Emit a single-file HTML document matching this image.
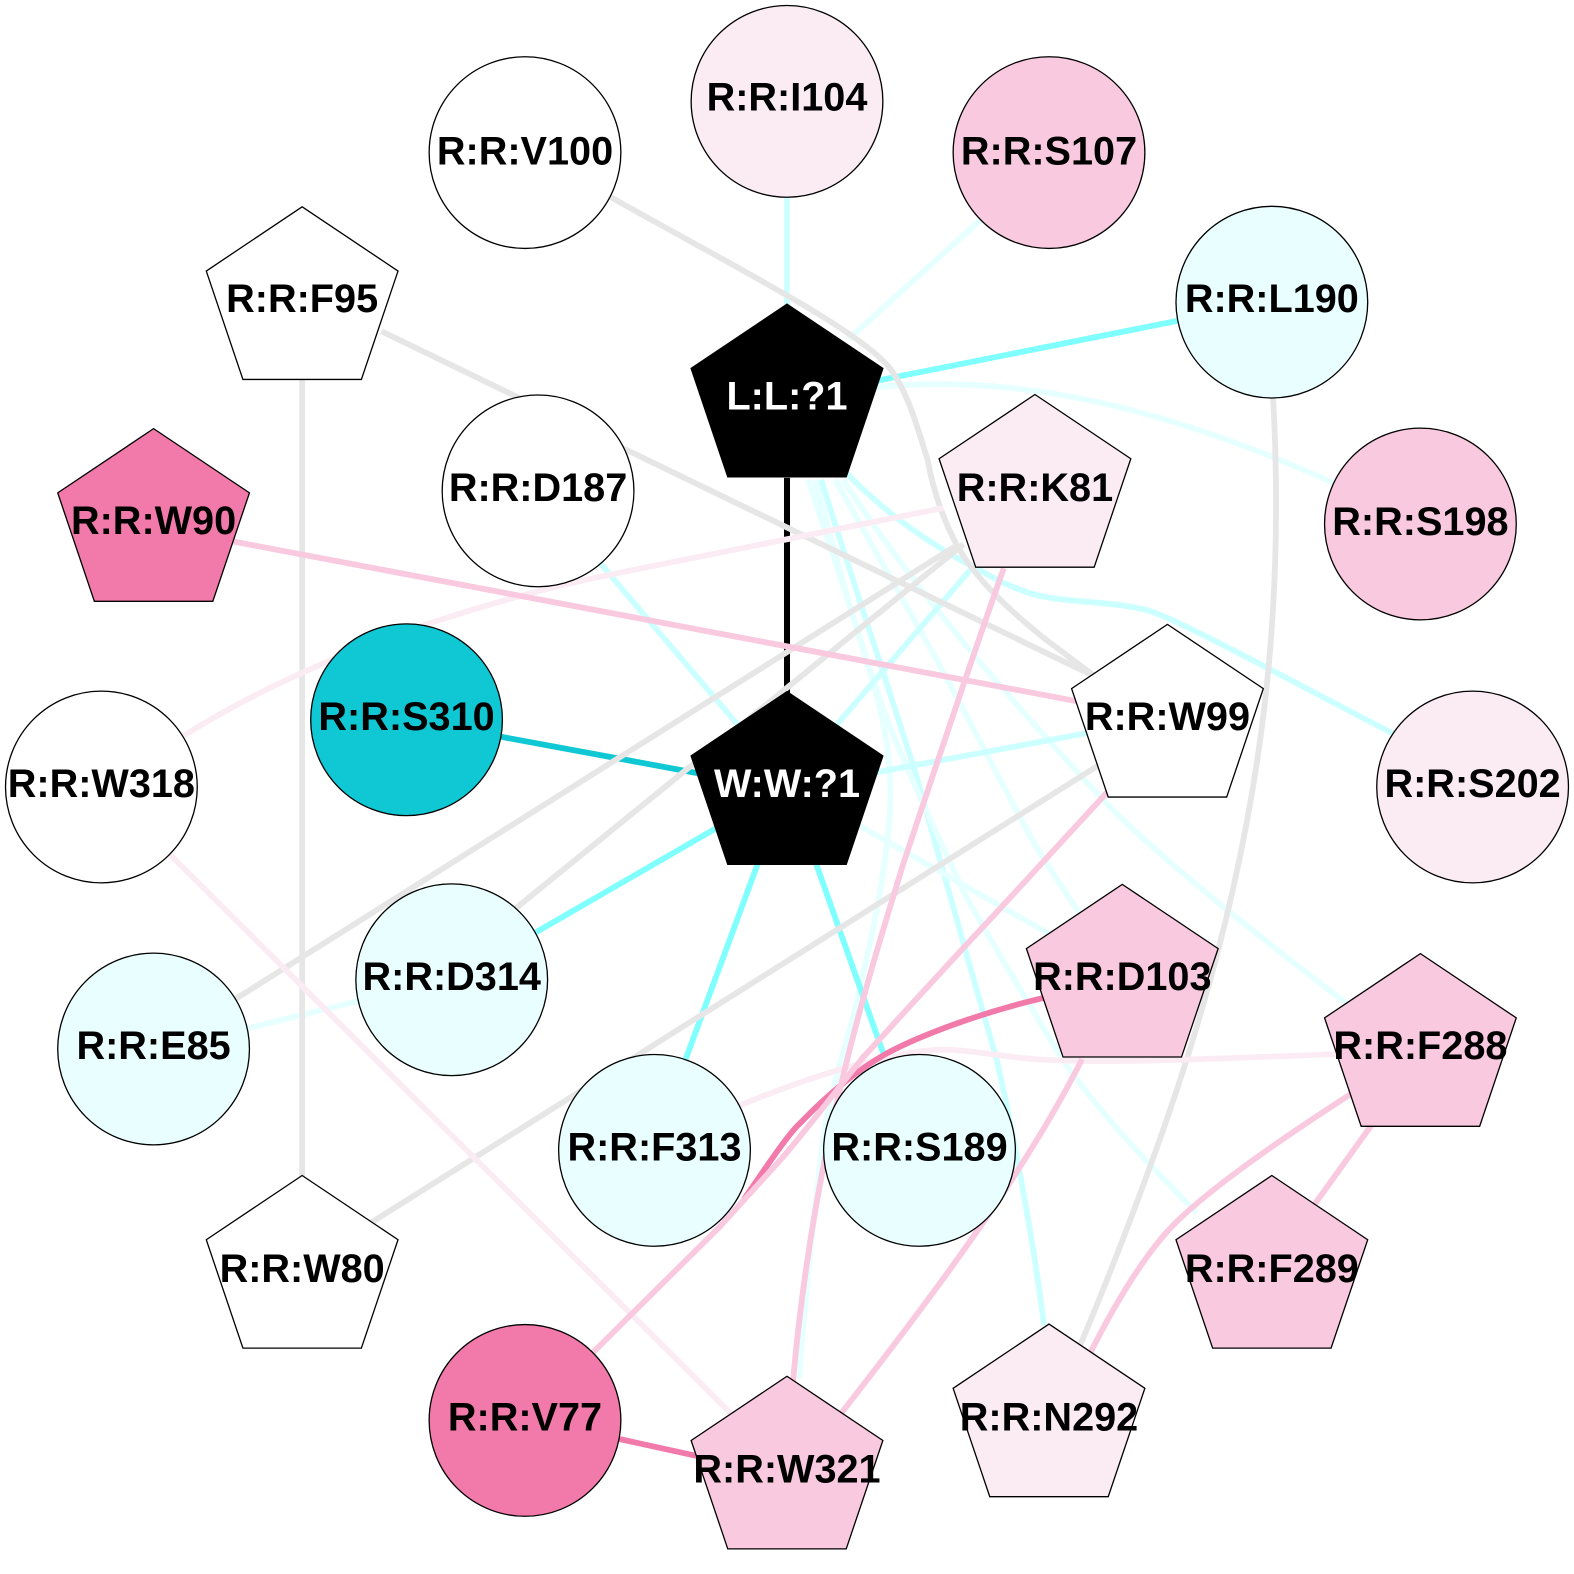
<!DOCTYPE html>
<html><head><meta charset="utf-8"><style>html,body{margin:0;padding:0;background:#fff}svg{display:block}text{font-family:"Liberation Sans",Arial,sans-serif;font-weight:bold;font-size:39.5px;text-anchor:middle;fill:#000}.e{fill:none;stroke-width:5.8}.c1{stroke:#e6ffff}.c2{stroke:#ccffff}.c3{stroke:#80ffff}.g{stroke:#e6e6e6}.p1{stroke:#fbecf4}.p2{stroke:#f9c9df}.p3{stroke:#f27aab}.n{stroke:#000;stroke-width:1.3}</style></head><body>
<svg xmlns="http://www.w3.org/2000/svg" width="1574" height="1574" viewBox="0 0 1568 1568">
<rect width="1568" height="1568" fill="#fff"/>
<path d="M784,476V695" fill="none" stroke="#000" stroke-width="6"/>
<g class="e">
<path class="e c2" d="M784,190V310"/>
<path class="e c1" d="M845,338L978,218"/>
<path class="e c3" d="M870,380L1176,319"/>
<path class="e c1" d="M870,386C1000,372 1150,400 1330,482"/>
<path class="e c2" d="M842,470C880,510 930,545 976,568C990,576 1015,590 1043,595C1070,600 1115,600 1143,608C1170,615 1280,675 1390,732"/>
<path class="e c1" d="M805,478C825,540 850,610 865,664C880,710 887,750 887,790C887,860 860,970 850,1013C835,1065 825,1100 820,1135C812,1200 802,1290 796,1373"/>
<path class="e c2" d="M818,478C845,565 890,700 912,770C935,850 965,960 993,1056C1010,1130 1030,1240 1040,1320"/>
<path class="e c1" d="M812,478C830,545 855,640 885,720C905,770 930,825 963,894C1000,960 1040,1025 1059,1056C1100,1115 1150,1165 1192,1208"/>
<path class="e c1" d="M832,478L933,657C970,725 1010,805 1036,850L1085,925"/>
<path class="e c1" d="M840,478C880,540 930,605 974,657C1015,705 1060,755 1099,797C1150,850 1250,930 1342,1000"/>
<path class="e c2" d="M597,560L740,728"/>
<path class="e c2" d="M830,726L968,566"/>
<path class="e c2" d="M870,770L1090,729"/>
<path class="e c1" d="M855,822L1050,933"/>
<path class="e c1" d="M244,1025L362,996"/>
<path class="e c3" d="M530,931L717,823"/>
<path class="e c3" d="M758,852L682,1058"/>
<path class="e c3" d="M810,852L883,1058"/>
<path class="e" stroke="#10c8d4" d="M494,733L710,773"/>
<path class="e g" d="M606,195C730,265 850,325 885,365C905,390 915,430 924,458C930,490 940,520 956,548C975,580 1010,612 1043,638L1095,677"/>
<path class="e g" d="M380,330L1095,676"/>
<path class="e g" d="M955,542L230,998"/>
<path class="e g" d="M960,542L505,912"/>
<path class="e g" d="M365,1221L1095,762"/>
<path class="e g" d="M301,375V1175"/>
<path class="e g" d="M1268,392C1280,600 1260,800 1190,1030C1160,1130 1110,1260 1076,1340"/>
<path class="e p1" d="M940,506L610,572C520,590 330,640 183,733"/>
<path class="e p1" d="M166,848L730,1410"/>
<path class="e p1" d="M1335,1050C1200,1055 1100,1060 1030,1055C970,1050 950,1040 900,1050C850,1060 800,1075 735,1102"/>
<path class="e p2" d="M230,539L1075,699"/>
<path class="e p3" d="M1040,994C980,1008 920,1030 884,1049C850,1068 820,1095 797,1119C785,1130 765,1160 741,1195"/>
<path class="e p2" d="M1000,566C970,650 930,770 900,860C860,990 810,1150 790,1376"/>
<path class="e p2" d="M1105,787L989,913C940,965 895,1015 860,1053C830,1090 800,1130 777,1156L717,1222L586,1352"/>
<path class="e p3" d="M610,1432L697,1451"/>
<path class="e p2" d="M1078,1055C1020,1170 930,1290 834,1413"/>
<path class="e p2" d="M1369,1117L1308,1202"/>
<path class="e p2" d="M1347,1089C1260,1145 1190,1195 1160,1230C1130,1265 1105,1310 1085,1350"/>
</g>
<g class="n">
<circle cx="523" cy="152" r="95.5" fill="#fff"/>
<circle cx="784" cy="101" r="95.5" fill="#fbecf4"/>
<circle cx="1045" cy="152" r="95.5" fill="#f9c9df"/>
<circle cx="1267" cy="301" r="95.5" fill="#e9ffff"/>
<circle cx="1415" cy="522" r="95.5" fill="#f9c9df"/>
<circle cx="1467" cy="784" r="95.5" fill="#fbecf4"/>
<circle cx="101" cy="784" r="95.5" fill="#fff"/>
<circle cx="405" cy="717" r="95.5" fill="#10c8d4"/>
<circle cx="536" cy="489" r="95.5" fill="#fff"/>
<circle cx="450" cy="976" r="95.5" fill="#e9ffff"/>
<circle cx="153" cy="1045" r="95.5" fill="#e9ffff"/>
<circle cx="652" cy="1146" r="95.5" fill="#e9ffff"/>
<circle cx="916" cy="1146" r="95.5" fill="#e9ffff"/>
<circle cx="523" cy="1415" r="95.5" fill="#f27aab"/>
<polygon fill="#fff" points="301,206 396.500,270 360,378 242,378 205.500,270"/>
<polygon fill="#f27aab" points="153,427 248.500,491 212,599 94,599 57.500,491"/>
<polygon fill="#000" points="784,303 879.500,367 843,475 725,475 688.500,367"/>
<polygon fill="#fbecf4" points="1031,393 1126.500,457 1090,565 972,565 935.500,457"/>
<polygon fill="#fff" points="1163,622 1258.500,686 1222,794 1104,794 1067.500,686"/>
<polygon fill="#000" points="784,689 879.500,753 843,861 725,861 688.500,753"/>
<polygon fill="#f9c9df" points="1118,881 1213.500,945 1177,1053 1059,1053 1022.500,945"/>
<polygon fill="#f9c9df" points="1415,950 1510.500,1014 1474,1122 1356,1122 1319.500,1014"/>
<polygon fill="#f9c9df" points="1267,1171 1362.500,1235 1326,1343 1208,1343 1171.500,1235"/>
<polygon fill="#fff" points="301,1171 396.500,1235 360,1343 242,1343 205.500,1235"/>
<polygon fill="#f9c9df" points="784,1371 879.500,1435 843,1543 725,1543 688.500,1435"/>
<polygon fill="#fbecf4" points="1045,1319 1140.500,1383 1104,1491 986,1491 949.500,1383"/>
</g>
<text x="523" y="164">R:R:V100</text>
<text x="784" y="110">R:R:I104</text>
<text x="1045" y="164">R:R:S107</text>
<text x="1267" y="311">R:R:L190</text>
<text x="1415" y="533">R:R:S198</text>
<text x="1467" y="794">R:R:S202</text>
<text x="101" y="794">R:R:W318</text>
<text x="405" y="727">R:R:S310</text>
<text x="536" y="499">R:R:D187</text>
<text x="450" y="986">R:R:D314</text>
<text x="153" y="1055">R:R:E85</text>
<text x="652" y="1156">R:R:F313</text>
<text x="916" y="1156">R:R:S189</text>
<text x="523" y="1425">R:R:V77</text>
<text x="301" y="311">R:R:F95</text>
<text x="153" y="532">R:R:W90</text>
<text x="784" y="408" style="fill:#fff">L:L:?1</text>
<text x="1031" y="499">R:R:K81</text>
<text x="1163" y="727">R:R:W99</text>
<text x="784" y="794" style="fill:#fff">W:W:?1</text>
<text x="1118" y="986">R:R:D103</text>
<text x="1415" y="1055">R:R:F288</text>
<text x="1267" y="1277">R:R:F289</text>
<text x="301" y="1277">R:R:W80</text>
<text x="784" y="1477">R:R:W321</text>
<text x="1045" y="1425">R:R:N292</text>
</svg>
</body></html>
